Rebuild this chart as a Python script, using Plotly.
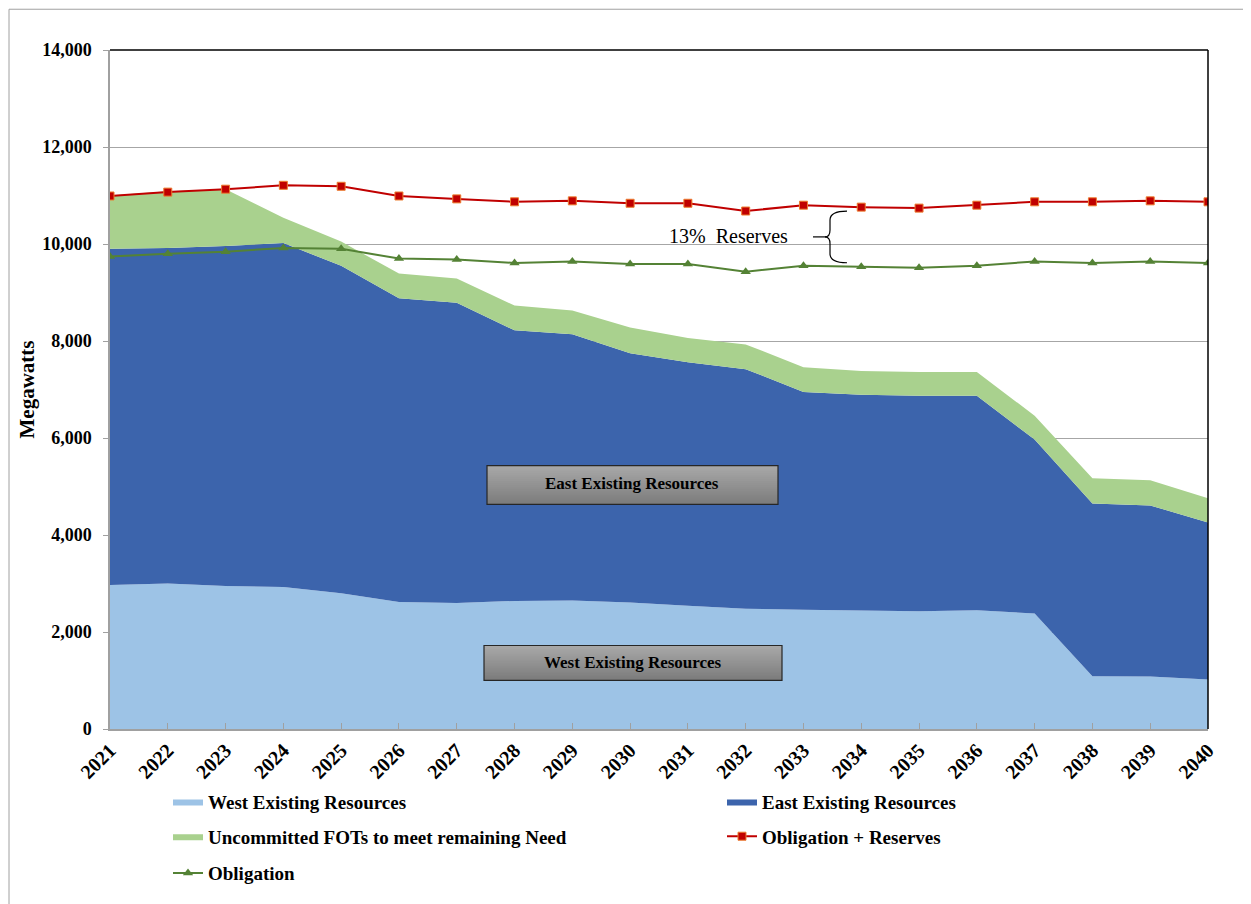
import plotly.graph_objects as go

years = list(range(2021, 2041))
west = [2970, 3000, 2950, 2930, 2800, 2620, 2600, 2640, 2650, 2610,
        2540, 2480, 2460, 2440, 2430, 2450, 2380, 1090, 1080, 1020]
east = [6930, 6920, 7010, 7090, 6750, 6260, 6190, 5580, 5490, 5140,
        5020, 4940, 4490, 4450, 4440, 4420, 3590, 3560, 3530, 3240]
fots = [1100, 1170, 1170, 520, 500, 510, 500, 510, 490, 530,
        500, 510, 510, 490, 490, 490, 490, 520, 520, 500]
oblig_res = [10990, 11070, 11130, 11210, 11190, 10990, 10930, 10870, 10890, 10840,
             10840, 10680, 10800, 10760, 10740, 10800, 10870, 10870, 10890, 10870]
oblig = [9740, 9800, 9840, 9920, 9900, 9700, 9680, 9610, 9640, 9590,
         9590, 9430, 9550, 9530, 9510, 9550, 9640, 9610, 9640, 9610]

FONT = "Liberation Serif"
OFF = 8  # page body margin
W, H = 1251 - OFF, 904 - OFF
L, R, T, B = 110, 1208, 50, 733


def px(x):
    return (x - L) / (R - L)


def py(y):
    return (B - y) / (B - T)


fig = go.Figure()
fig.add_trace(go.Scatter(x=years, y=west, name="West Existing Resources", stackgroup="one",
                         mode="lines", line=dict(width=0), fillcolor="#9DC3E6", legend="legend2"))
fig.add_trace(go.Scatter(x=years, y=east, name="East Existing Resources", stackgroup="one",
                         mode="lines", line=dict(width=0), fillcolor="#3C64AC", legend="legend3"))
fig.add_trace(go.Scatter(x=years, y=fots, name="Uncommitted FOTs to meet remaining Need", stackgroup="one",
                         mode="lines", line=dict(width=0), fillcolor="#A9D18E", legend="legend4"))
fig.add_trace(go.Scatter(x=years, y=oblig_res, name="Obligation + Reserves", mode="lines+markers",
                         line=dict(color="#C00000", width=2),
                         marker=dict(symbol="square", size=8, color="#C00000",
                                     line=dict(color="#ED7D31", width=1)),
                         legend="legend5"))
fig.add_trace(go.Scatter(x=years, y=oblig, name="Obligation", mode="lines+markers",
                         line=dict(color="#548235", width=2),
                         marker=dict(symbol="triangle-up", size=9, color="#548235"),
                         legend="legend6"))

shapes = []
# outer frame (as close to the page edge as the figure allows)
shapes.append(dict(type="line", xref="paper", yref="paper", x0=px(9), x1=px(1260), y0=py(9), y1=py(9),
                   line=dict(color="#A0A0A0", width=1)))
shapes.append(dict(type="line", xref="paper", yref="paper", x0=px(9), x1=px(9), y0=py(9), y1=py(910),
                   line=dict(color="#A0A0A0", width=1)))
# top and right plot borders
shapes.append(dict(type="line", xref="paper", yref="paper", x0=0, x1=1, y0=1, y1=1,
                   line=dict(color="black", width=1.5)))
shapes.append(dict(type="line", xref="paper", yref="paper", x0=1, x1=1, y0=0, y1=1,
                   line=dict(color="black", width=1.5)))


def gbox(x0, x1, y0, y1):
    n = 20
    for i in range(n):
        a = y0 + (y1 - y0) * i / n
        b = min(y1, y0 + (y1 - y0) * (i + 1) / n + 1)
        g = int(round(0xA8 - (0xA8 - 0x7C) * i / (n - 1)))
        shapes.append(dict(type="rect", xref="paper", yref="paper", x0=px(x0), x1=px(x1),
                           y0=py(a), y1=py(b), fillcolor=f"rgb({g},{g},{g})",
                           line=dict(width=0), layer="above"))
    shapes.append(dict(type="rect", xref="paper", yref="paper", x0=px(x0), x1=px(x1),
                       y0=py(y0), y1=py(y1), fillcolor="rgba(0,0,0,0)",
                       line=dict(color="#262626", width=1.2), layer="above"))


gbox(487, 778, 468, 507)
gbox(484, 782, 649, 684)

# brace
pts = [("M", 847, 212), ("Q", 830, 212, 830, 221), ("L", 830, 231), ("Q", 830, 238, 825, 238),
       ("Q", 830, 238, 830, 245), ("L", 830, 255), ("Q", 830, 264, 847, 264)]
path = ""
for p in pts:
    cmd = p[0]
    coords = p[1:]
    s = []
    for i in range(0, len(coords), 2):
        s.append(f"{px(coords[i]):.5f},{py(coords[i+1]):.5f}")
    path += cmd + " " + " ".join(s) + " "
shapes.append(dict(type="path", xref="paper", yref="paper", path=path,
                   line=dict(color="black", width=1.2)))
shapes.append(dict(type="line", xref="paper", yref="paper", x0=px(813), x1=px(826), y0=py(238), y1=py(238),
                   line=dict(color="black", width=1.2)))

annotations = [
    dict(text="<b>East Existing Resources</b>", x=px(632), y=py(486), xref="paper", yref="paper",
         xanchor="center", yanchor="middle",
         showarrow=False, font=dict(family=FONT, size=17, color="black")),
    dict(text="<b>West Existing Resources</b>", x=px(633), y=py(666), xref="paper", yref="paper",
         xanchor="center", yanchor="middle",
         showarrow=False, font=dict(family=FONT, size=17, color="black")),
    dict(text="13%  Reserves", x=px(728), y=py(237), xref="paper", yref="paper",
         xanchor="center", yanchor="middle",
         showarrow=False, font=dict(family=FONT, size=20, color="black")),
]

leg_font = dict(family=FONT, size=19, color="black", weight="bold")


def leg(xp, yp):
    return dict(x=px(xp), y=py(yp), xanchor="left", yanchor="middle", orientation="h",
                font=leg_font, bgcolor="rgba(0,0,0,0)", borderwidth=0)


fig.update_layout(
    width=W, height=H,
    margin=dict(l=L - OFF, r=W - (R - OFF), t=T - OFF, b=H - (B - OFF)),
    paper_bgcolor="white", plot_bgcolor="white",
    font=dict(family=FONT, color="black"),
    xaxis=dict(range=[2021, 2040], dtick=1, tick0=2021, tickangle=-45,
               tickfont=dict(family=FONT, size=20, color="black", weight="bold"),
               ticks="inside", ticklen=6, tickcolor="#A0A0A0",
               showline=True, linecolor="#A0A0A0", linewidth=1.5,
               showgrid=False, zeroline=False),
    yaxis=dict(range=[0, 14000], dtick=2000, tickformat=",",
               tickfont=dict(family=FONT, size=18, color="black", weight="bold"),
               ticks="outside", ticklen=5, tickcolor="#A0A0A0", ticklabelstandoff=8,
               showline=True, linecolor="#A0A0A0", linewidth=1.5,
               showgrid=True, gridcolor="#A6A6A6", gridwidth=1, zeroline=False,
               title=dict(text="Megawatts", font=dict(family=FONT, size=21, color="black", weight="bold"),
                          standoff=2)),
    showlegend=True,
    legend=dict(visible=False),
    legend2=leg(168, 806),
    legend3=leg(722, 806),
    legend4=leg(168, 841),
    legend5=leg(722, 841),
    legend6=leg(168, 878),
    shapes=shapes,
    annotations=annotations,
)

fig.write_html("out.html")
